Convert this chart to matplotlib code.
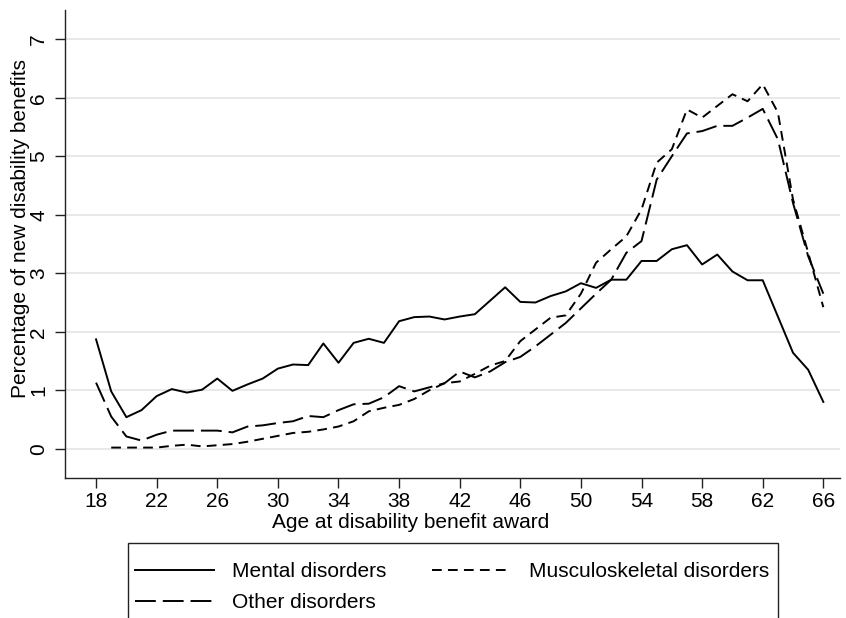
import numpy as np
import matplotlib
matplotlib.use('Agg')
import matplotlib.pyplot as plt
from matplotlib.patches import Rectangle

plt.rcParams['font.family'] = ['Liberation Sans', 'DejaVu Sans']
plt.rcParams['lines.scale_dashes'] = False

# Age at disability benefit award, 18..66
ages = list(range(18, 67))

mental = [1.87, 0.98, 0.54, 0.66, 0.90, 1.02, 0.96, 1.01, 1.20, 0.99,
          1.10, 1.20, 1.37, 1.44, 1.43, 1.80, 1.47, 1.81, 1.88, 1.81,
          2.18, 2.25, 2.26, 2.21, 2.26, 2.30, 2.53, 2.76, 2.51, 2.50,
          2.61, 2.69, 2.83, 2.75, 2.89, 2.89, 3.21, 3.21, 3.41, 3.48,
          3.15, 3.32, 3.03, 2.88, 2.88, 2.26, 1.64, 1.35, 0.80]

# no value at age 18
musculoskeletal = [np.nan, 0.02, 0.02, 0.02, 0.02, 0.05, 0.07, 0.04, 0.06, 0.08,
                   0.12, 0.17, 0.22, 0.27, 0.29, 0.33, 0.38, 0.47, 0.64, 0.70,
                   0.75, 0.85, 1.00, 1.12, 1.15, 1.28, 1.42, 1.50, 1.84, 2.04,
                   2.24, 2.28, 2.65, 3.18, 3.41, 3.63, 4.09, 4.89, 5.12, 5.80,
                   5.66, 5.86, 6.06, 5.94, 6.23, 5.75, 4.26, 3.35, 2.42]

other = [1.13, 0.55, 0.21, 0.14, 0.24, 0.31, 0.31, 0.31, 0.31, 0.28,
         0.38, 0.40, 0.44, 0.47, 0.56, 0.54, 0.66, 0.76, 0.77, 0.88,
         1.07, 0.98, 1.05, 1.12, 1.32, 1.22, 1.32, 1.48, 1.57, 1.75,
         1.95, 2.15, 2.40, 2.65, 2.89, 3.35, 3.55, 4.60, 5.00, 5.39,
         5.43, 5.52, 5.52, 5.66, 5.81, 5.29, 4.20, 3.29, 2.65]

x_ticks = list(range(18, 67, 4))
y_ticks = list(range(0, 8))

W, H = 846, 618
fig = plt.figure(figsize=(W / 100, H / 100), dpi=100)
ax = fig.add_axes([65 / W, 140 / H, 775 / W, 468 / H])

lw = 1.4
l1, = ax.plot(ages, mental, color='black', lw=lw, label='Mental disorders')
l2, = ax.plot(ages, other, color='black', lw=lw, dashes=(15, 5),
              label='Other disorders')
l3, = ax.plot(ages, musculoskeletal, color='black', lw=lw, dashes=(7, 4.5),
              label='Musculoskeletal disorders')

ax.set_xlim(15.95, 67.1)
ax.set_ylim(-0.5, 7.5)
ax.set_xticks(x_ticks)
ax.set_yticks(y_ticks)
ax.grid(axis='y', color='#e6e6e6', lw=1.3)
ax.set_axisbelow(True)

for s in ['top', 'right']:
    ax.spines[s].set_visible(False)
for s in ['left', 'bottom']:
    ax.spines[s].set_color('#222222')
    ax.spines[s].set_linewidth(1.0)

ax.tick_params(axis='both', labelsize=15, length=7, width=1.0, color='#222222')
ax.tick_params(axis='x', pad=3)
ax.tick_params(axis='y', pad=5)
for t in ax.get_yticklabels():
    t.set_rotation(90)
    t.set_va('center')

ax.set_xlabel('Age at disability benefit award', fontsize=15)
ax.set_ylabel('Percentage of new disability benefits', fontsize=15)
ax.xaxis.set_label_coords(0.446, -0.075)
ax.yaxis.set_label_coords(-0.045, 0.534)

# legend box (runs off the bottom edge, as in the source figure)
fig.patches.append(Rectangle((128 / W, -0.05), 650 / W, 0.05 + (H - 543) / H,
                             transform=fig.transFigure, fill=False,
                             edgecolor='#222222', lw=1.0))
leg = fig.legend(handles=[l1, l2, l3], ncol=2, loc='upper left',
                 bbox_to_anchor=(135 / W, 1 - 562 / H),
                 fontsize=15, frameon=False, handlelength=3.8,
                 handletextpad=0.85, columnspacing=2.2, labelspacing=0.58,
                 borderpad=0, borderaxespad=0)

fig.savefig('out.png', dpi=100)
